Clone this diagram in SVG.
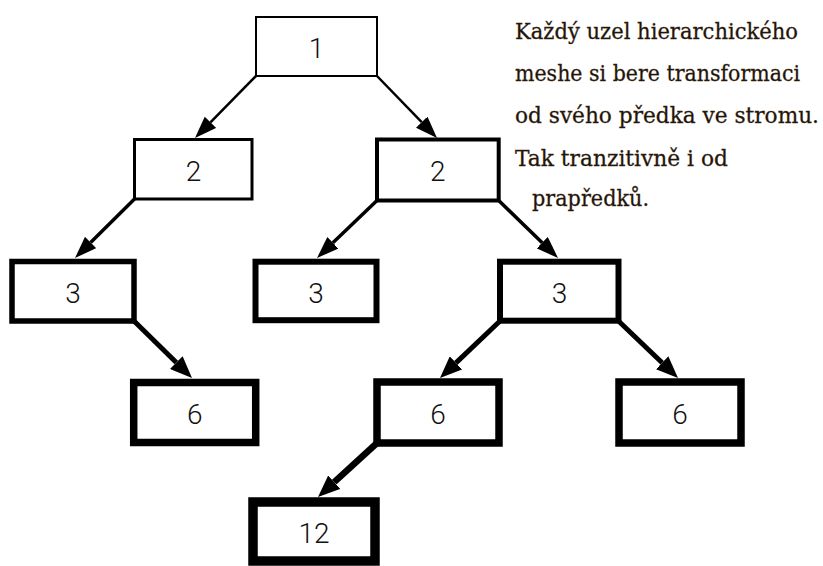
<svg xmlns="http://www.w3.org/2000/svg" width="823" height="566" viewBox="0 0 823 566">
  <defs>
    <style>
      .box { fill: #ffffff; stroke: #000000; }
      .num { font-family: Roboto, "Liberation Sans", sans-serif; font-weight: 300; font-size: 28px; fill: #111111; text-anchor: middle; }
      .edge { stroke: #000000; fill: none; stroke-linecap: butt; }
      .note { font-family: "DejaVu Serif", "Liberation Serif", serif; font-size: 22px; fill: #1e1408; stroke: #3a2410; stroke-width: 0.3; }
    </style>
    <marker id="head" viewBox="0 0 22 16" refX="0" refY="8" markerWidth="22" markerHeight="16" markerUnits="userSpaceOnUse" orient="auto">
      <path d="M0,0 L22,8 L0,16 Z" fill="#000000"/>
    </marker>
    <marker id="headWide" viewBox="0 0 22 18" refX="0" refY="9" markerWidth="22" markerHeight="18" markerUnits="userSpaceOnUse" orient="auto">
      <path d="M0,0 L22,9 L0,18 Z" fill="#000000"/>
    </marker>
  </defs>

  <rect width="823" height="566" fill="#ffffff"/>

  <!-- parent-to-child connectors, thicker at each level down -->
  <g id="connectors">
    <line class="edge" x1="256" y1="76" x2="210.43" y2="122.32" stroke-width="2.5" marker-end="url(#head)"/>
    <line class="edge" x1="377" y1="76" x2="421.70" y2="122.19" stroke-width="2.5" marker-end="url(#head)"/>
    <line class="edge" x1="134.5" y1="199" x2="90.62" y2="242.51" stroke-width="3.5" marker-end="url(#head)"/>
    <line class="edge" x1="377" y1="200.5" x2="332.88" y2="242.78" stroke-width="3.5" marker-end="url(#head)"/>
    <line class="edge" x1="498.7" y1="200.5" x2="542.21" y2="242.69" stroke-width="3.5" marker-end="url(#head)"/>
    <line class="edge" x1="134" y1="321" x2="176.31" y2="362.58" stroke-width="5" marker-end="url(#headWide)"/>
    <line class="edge" x1="500" y1="321" x2="455.95" y2="362.85" stroke-width="5" marker-end="url(#headWide)"/>
    <line class="edge" x1="618.5" y1="321" x2="662.11" y2="362.78" stroke-width="5" marker-end="url(#headWide)"/>
    <line class="edge" x1="377" y1="443" x2="334.23" y2="482.15" stroke-width="6.5" marker-end="url(#headWide)"/>
  </g>

  <!-- level 1 -->
  <g id="node-1">
    <rect class="box" x="256" y="17" width="121" height="59" stroke-width="2"/>
    <text class="num" x="316.5" y="58">1</text>
  </g>

  <!-- level 2 -->
  <g id="node-2a">
    <rect class="box" x="134.5" y="139.5" width="117.5" height="59.5" stroke-width="3"/>
    <text class="num" x="193.5" y="181">2</text>
  </g>
  <g id="node-2b">
    <rect class="box" x="377" y="139.5" width="121.7" height="61" stroke-width="4"/>
    <text class="num" x="437.8" y="181">2</text>
  </g>

  <!-- level 3 -->
  <g id="node-3a">
    <rect class="box" x="12" y="261.5" width="122" height="59.5" stroke-width="5.5"/>
    <text class="num" x="73" y="302.5">3</text>
  </g>
  <g id="node-3b">
    <rect class="box" x="255.5" y="261.7" width="121" height="58.5" stroke-width="6"/>
    <text class="num" x="316" y="302.5">3</text>
  </g>
  <g id="node-3c">
    <rect class="box" x="500" y="261.7" width="118.5" height="59" stroke-width="6"/>
    <text class="num" x="559.5" y="302.5">3</text>
  </g>

  <!-- level 4 -->
  <g id="node-6a">
    <rect class="box" x="133.7" y="382.5" width="122" height="60" stroke-width="7.5"/>
    <text class="num" x="194.7" y="424">6</text>
  </g>
  <g id="node-6b">
    <rect class="box" x="377" y="382" width="122" height="61" stroke-width="7.5"/>
    <text class="num" x="438" y="424">6</text>
  </g>
  <g id="node-6c">
    <rect class="box" x="619" y="382" width="122" height="61" stroke-width="7.5"/>
    <text class="num" x="680" y="424">6</text>
  </g>

  <!-- level 5 -->
  <g id="node-12">
    <rect class="box" x="253" y="502" width="122" height="59" stroke-width="9.5"/>
    <text class="num" x="314" y="543">12</text>
  </g>

  <!-- explanatory note -->
  <g id="note">
    <text class="note" x="515" y="39" textLength="283" lengthAdjust="spacingAndGlyphs">Každý uzel hierarchického</text>
    <text class="note" x="515" y="81" textLength="285" lengthAdjust="spacingAndGlyphs">meshe si bere transformaci</text>
    <text class="note" x="515" y="123" textLength="304" lengthAdjust="spacingAndGlyphs">od svého předka ve stromu.</text>
    <text class="note" x="515" y="166" textLength="213" lengthAdjust="spacingAndGlyphs">Tak tranzitivně i od</text>
    <text class="note" x="532" y="206" textLength="117" lengthAdjust="spacingAndGlyphs">prapředků.</text>
  </g>
</svg>
